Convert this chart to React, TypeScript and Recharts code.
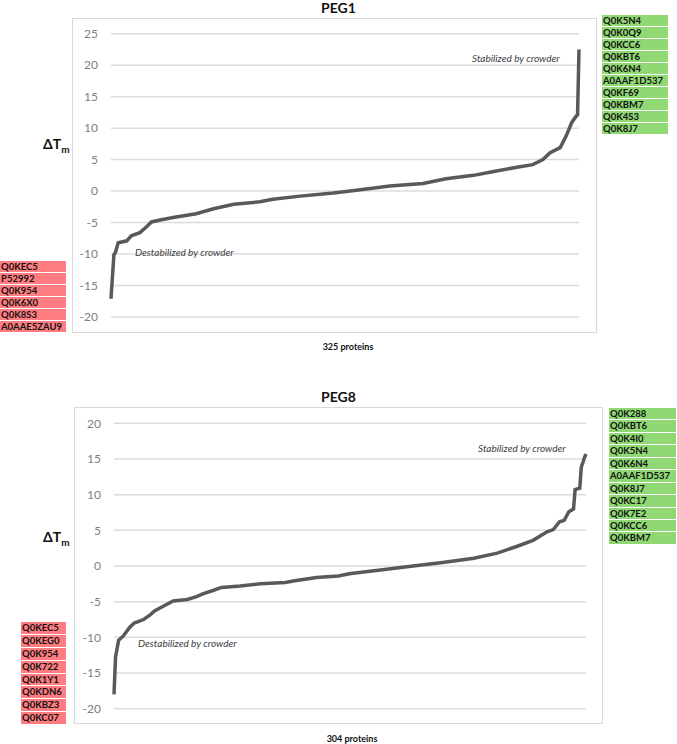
import { LineChart, Line, XAxis, YAxis, CartesianGrid } from "recharts";

// PEG1: protein rank (sorted) vs ΔTm
const PEG1_RANKS = [1, 3, 4, 6, 12, 15, 21, 26, 29, 35, 44, 60, 72, 86, 104, 113, 132, 155, 171, 194, 217, 233, 252, 266, 282, 293, 300, 305, 312, 316, 320, 323, 324, 325];
const PEG1_VALUES = [-17.1, -10.1, -9.8, -8.2, -7.9, -7.1, -6.6, -5.6, -4.9, -4.6, -4.2, -3.6, -2.8, -2.1, -1.7, -1.3, -0.8, -0.3, 0.15, 0.8, 1.2, 1.95, 2.5, 3.1, 3.8, 4.2, 5.0, 6.1, 6.9, 8.7, 10.9, 11.9, 12.1, 22.5];

// PEG8
const PEG8_RANKS = [1, 2, 4, 7, 11, 14, 20, 24, 27, 32, 39, 48, 54, 58, 65, 70, 82, 95, 111, 116, 131, 145, 152, 172, 193, 212, 232, 247, 259, 270, 279, 283, 287, 290, 293, 296, 297, 300, 301, 302, 303, 304];
const PEG8_VALUES = [-18.0, -12.7, -10.4, -9.8, -8.6, -8.0, -7.5, -6.9, -6.3, -5.7, -4.9, -4.7, -4.3, -3.9, -3.4, -3.0, -2.8, -2.5, -2.3, -2.1, -1.6, -1.4, -1.1, -0.56, 0, 0.5, 1.1, 1.8, 2.7, 3.6, 4.8, 5.1, 6.2, 6.4, 7.6, 8.0, 10.7, 10.9, 13.9, 14.5, 15.2, 15.7];

const PEG1_TICKS = [-20, -15, -10, -5, 0, 5, 10, 15, 20, 25];
const PEG8_TICKS = [-20, -15, -10, -5, 0, 5, 10, 15, 20];

const PEG1_UP = ["Q0K5N4", "Q0K0Q9", "Q0KCC6", "Q0KBT6", "Q0K6N4", "A0AAF1D537", "Q0KF69", "Q0KBM7", "Q0K4S3", "Q0K8J7"];
const PEG1_DOWN = ["Q0KEC5", "P52992", "Q0K954", "Q0K6X0", "Q0K8S3", "A0AAE5ZAU9"];
const PEG8_UP = ["Q0K288", "Q0KBT6", "Q0K4I0", "Q0K5N4", "Q0K6N4", "A0AAF1D537", "Q0K8J7", "Q0KC17", "Q0K7E2", "Q0KCC6", "Q0KBM7"];
const PEG8_DOWN = ["Q0KEC5", "Q0KEG0", "Q0K954", "Q0K722", "Q0K1Y1", "Q0KDN6", "Q0KBZ3", "Q0KC07"];

const FONT = "Lato, 'Open Sans', sans-serif";
const GREEN = "#8fd873";
const RED = "#ff7c80";

type Box = { left: number; top: number; width: number; rowH: number };

type PanelProps = {
  title: string;
  ranks: number[];
  values: number[];
  ticks: number[];
  count: number;
  top: number;
  box: { left: number; top: number; width: number; height: number };
  margin: { top: number; right: number; bottom: number; left: number };
  ylabelTop: number;
  countTop: number;
  countX: number;
  up: string[];
  upBox: Box;
  down: string[];
  downBox: Box;
  stab: { left: number; top: number };
  destab: { left: number; top: number };
};

function NameList({ names, color, b }: { names: string[]; color: string; b: Box }) {
  return (
    <div style={{ position: "absolute", left: b.left, top: b.top, width: b.width }}>
      {names.map((n) => (
        <div
          key={n}
          style={{
            height: b.rowH - 1,
            marginBottom: 1,
            background: color,
            fontFamily: FONT,
            fontWeight: 700,
            fontSize: 9.5,
            lineHeight: `${b.rowH - 1}px`,
            color: "#111",
            paddingLeft: 1,
          }}
        >
          {n}
        </div>
      ))}
    </div>
  );
}

function Panel(p: PanelProps) {
  const data = p.ranks.map((r, i) => ({ rank: r, dtm: p.values[i] }));
  const italic = { position: "absolute" as const, fontFamily: FONT, fontStyle: "italic", fontSize: 10, color: "#404040", whiteSpace: "nowrap" as const };
  return (
    <>
      <div
        style={{
          position: "absolute",
          left: 0,
          width: 677,
          top: p.top,
          textAlign: "center",
          fontFamily: FONT,
          fontWeight: 700,
          fontSize: 14,
          lineHeight: "16px",
          color: "#111",
        }}
      >
        {p.title}
      </div>
      <div
        style={{
          position: "absolute",
          left: p.box.left,
          top: p.box.top,
          width: p.box.width,
          height: p.box.height,
          boxSizing: "border-box",
          border: "1px solid #d9d9d9",
        }}
      />
      <div style={{ position: "absolute", left: p.box.left, top: p.box.top }}>
        <LineChart width={p.box.width} height={p.box.height} data={data} margin={p.margin}>
          <CartesianGrid vertical={false} stroke="#dcdcdc" strokeWidth={1.5} />
          <XAxis type="number" dataKey="rank" domain={[1, p.count]} hide />
          <YAxis
            type="number"
            domain={[p.ticks[0], p.ticks[p.ticks.length - 1]]}
            ticks={p.ticks}
            interval={0}
            width={30}
            axisLine={false}
            tickLine={false}
            tickSize={0}
            tickMargin={13}
            tick={{ fill: "#7f7f7f", fontSize: 12, fontFamily: FONT }}
          />
          <Line
            type="linear"
            dataKey="dtm"
            stroke="#595959"
            strokeWidth={3.5}
            dot={false}
            isAnimationActive={false}
          />
        </LineChart>
      </div>
      <div
        style={{
          position: "absolute",
          left: 43,
          top: p.ylabelTop,
          fontFamily: FONT,
          fontWeight: 700,
          fontSize: 14,
          color: "#111",
        }}
      >
        ΔT<sub style={{ fontSize: 10 }}>m</sub>
      </div>
      <div style={{ ...italic, left: p.stab.left, top: p.stab.top }}>Stabilized by crowder</div>
      <div style={{ ...italic, left: p.destab.left, top: p.destab.top }}>Destabilized by crowder</div>
      <div
        style={{
          position: "absolute",
          left: p.countX - 40,
          width: 80,
          top: p.countTop,
          textAlign: "center",
          fontFamily: FONT,
          fontWeight: 700,
          fontSize: 9,
          color: "#111",
        }}
      >
        {p.count} proteins
      </div>
      <NameList names={p.up} color={GREEN} b={p.upBox} />
      <NameList names={p.down} color={RED} b={p.downBox} />
    </>
  );
}

export default function App() {
  return (
    <div style={{ position: "absolute", left: 0, top: 0, width: 677, height: 744, background: "#fff", overflow: "hidden" }}>
      <Panel
        title="PEG1"
        ranks={PEG1_RANKS}
        values={PEG1_VALUES}
        ticks={PEG1_TICKS}
        count={325}
        top={0}
        box={{ left: 72, top: 18, width: 525, height: 315 }}
        margin={{ top: 15.7, right: 18, bottom: 16, left: 9 }}
        ylabelTop={135}
        countTop={341}
        countX={348}
        up={PEG1_UP}
        upBox={{ left: 602, top: 15, width: 66, rowH: 12 }}
        down={PEG1_DOWN}
        downBox={{ left: 0, top: 261, width: 66, rowH: 12 }}
        stab={{ left: 472, top: 52 }}
        destab={{ left: 135, top: 246 }}
      />
      <Panel
        title="PEG8"
        ranks={PEG8_RANKS}
        values={PEG8_VALUES}
        ticks={PEG8_TICKS}
        count={304}
        top={389}
        box={{ left: 74, top: 407, width: 529, height: 317 }}
        margin={{ top: 16.3, right: 17, bottom: 15.3, left: 10 }}
        ylabelTop={528}
        countTop={733}
        countX={352}
        up={PEG8_UP}
        upBox={{ left: 609, top: 408, width: 67, rowH: 12.45 }}
        down={PEG8_DOWN}
        downBox={{ left: 21, top: 622, width: 45, rowH: 12.9 }}
        stab={{ left: 478, top: 442 }}
        destab={{ left: 138, top: 637 }}
      />
    </div>
  );
}
